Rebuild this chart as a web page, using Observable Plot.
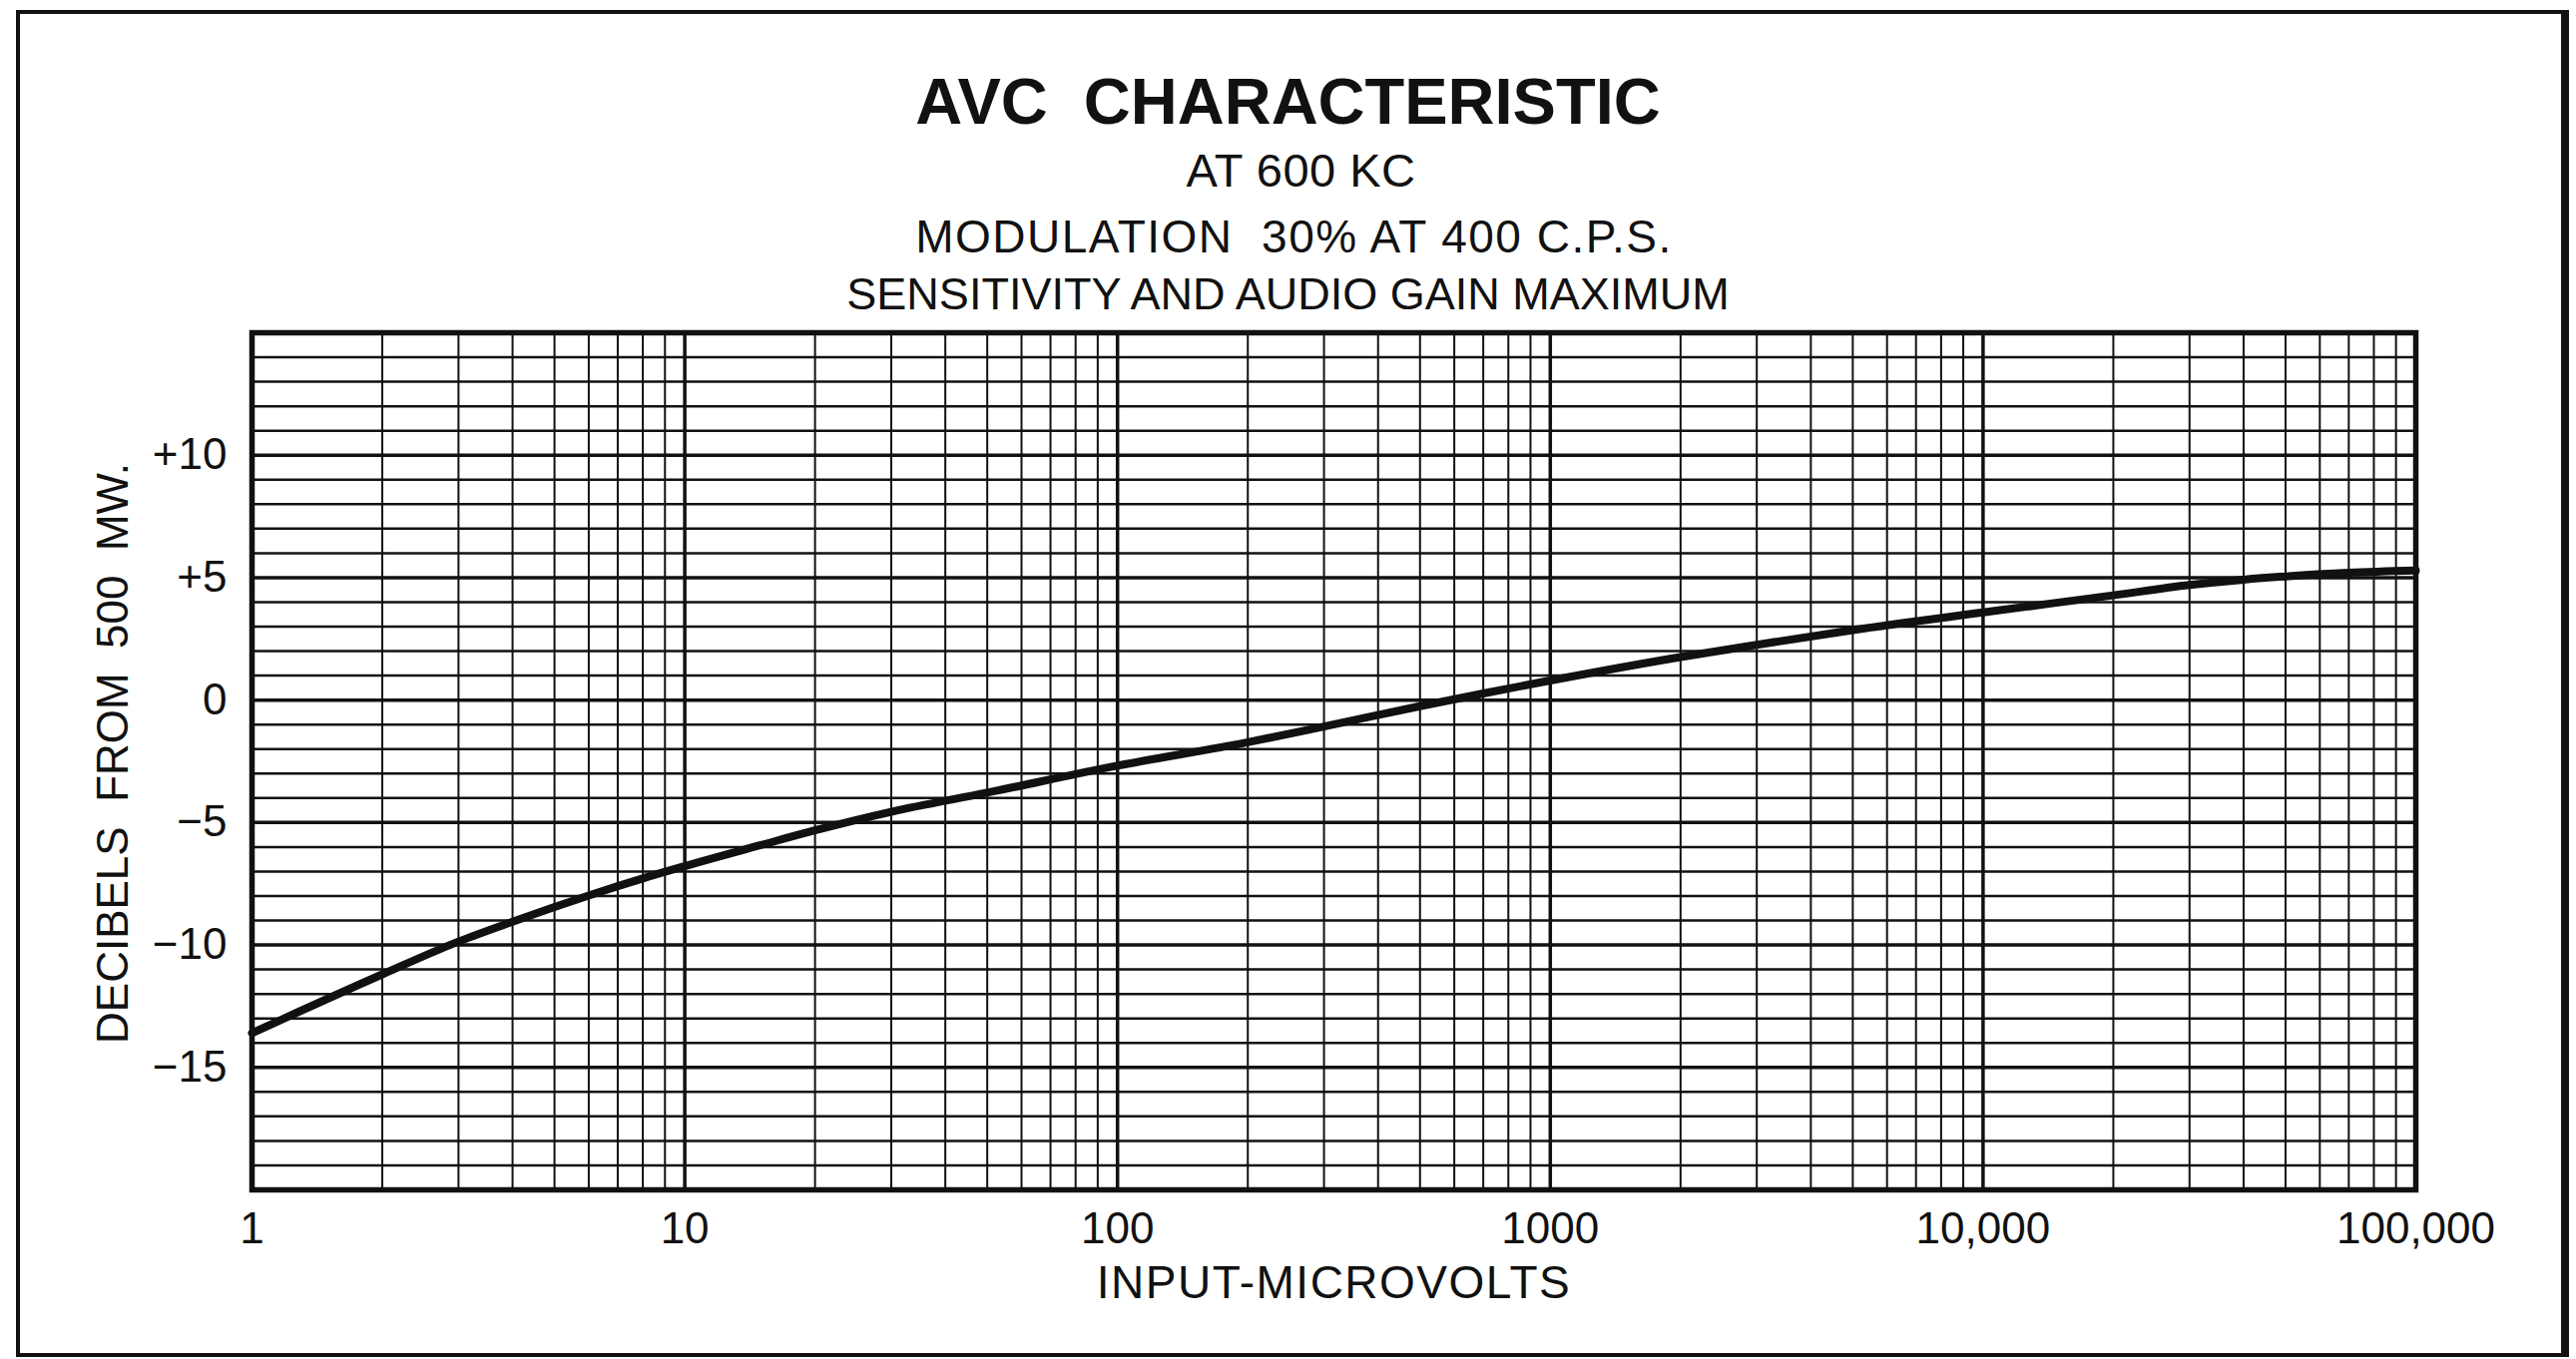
<!DOCTYPE html>
<html>
<head>
<meta charset="utf-8">
<script src="https://cdn.jsdelivr.net/npm/d3@7"></script>
<script src="https://cdn.jsdelivr.net/npm/@observablehq/plot@0.6"></script>
<style>
  html, body { margin: 0; padding: 0; background: #fff; }
  #page { position: relative; width: 2581px; height: 1362px; overflow: hidden; background: #fff;
          font-family: "Liberation Sans", Arial, sans-serif; color: #111; }
  #border { position: absolute; left: 16px; top: 10px; width: 2558px; height: 1350px; box-sizing: border-box;
            border-style: solid; border-color: #111; border-width: 4px 8px 4px 4px; z-index: 2; pointer-events: none; }
  .t { position: absolute; left: 0; width: 100%; text-align: center; white-space: pre; line-height: 1; }
  #title { top: 69px; font-size: 65px; font-weight: bold; }
  #sub1 { top: 147px; left: 13px; font-size: 47px; letter-spacing: 0.5px; }
  #sub2 { top: 214px; left: 6px; font-size: 46px; letter-spacing: 1.5px; }
  #sub3 { top: 272px; font-size: 45px; }
  #chart { position: absolute; left: 0; top: 320px; }
  #chart svg { overflow: visible; }
  #chart svg .xlab { letter-spacing: 1.5px; }
</style>
</head>
<body>
<div id="page">
  <div class="t" id="title"></div>
  <div class="t" id="sub1"></div>
  <div class="t" id="sub2"></div>
  <div class="t" id="sub3"></div>
  <div id="chart"></div>
  <div id="border"></div>
</div>
<script>
// ---- texts ----
const titleText = "AVC  CHARACTERISTIC";
const subtitleLines = ["AT 600 KC", "MODULATION  30% AT 400 C.P.S.", "SENSITIVITY AND AUDIO GAIN MAXIMUM"];
const xAxisLabel = "INPUT-MICROVOLTS";
const yAxisLabel = "DECIBELS  FROM  500  MW.";

// ---- axis ticks ----
const xTickValues = [1, 10, 100, 1000, 10000, 100000];
const xTickLabels = ["1", "10", "100", "1000", "10,000", "100,000"];
const yTickValues = [-15, -10, -5, 0, 5, 10];
const yTickLabels = ["\u221215", "\u221210", "\u22125", "0", "+5", "+10"];

// ---- curve ----
const inputMicrovolts = [1, 2, 3, 4, 5, 6, 7, 8, 10, 15, 20, 30, 50, 100, 200, 300, 500, 700,
  1000, 2000, 3000, 5000, 10000, 20000, 30000, 40000, 50000, 70000, 100000];
const decibels = [-13.6, -11.2, -9.86, -9.05, -8.45, -7.98, -7.6, -7.28, -6.78, -5.92, -5.32, -4.56, -3.78, -2.68, -1.72, -1.08, -0.25, 0.27,
  0.8, 1.76, 2.26, 2.86, 3.58, 4.28, 4.7, 4.92, 5.05, 5.2, 5.29];

// ---- grid (graph paper) ----
const decades = [1, 10, 100, 1000, 10000, 100000];
const multipliers = [2, 3, 4, 5, 6, 7, 8, 9];
const xMinorGrid = decades.slice(0, -1).flatMap(d => multipliers.map(m => d * m));
const yMajorGrid = [-15, -10, -5, 0, 5, 10];
const yMinorGrid = d3.range(-19, 15).filter(v => v % 5 !== 0);

document.getElementById("title").textContent = titleText;
document.getElementById("sub1").textContent = subtitleLines[0];
document.getElementById("sub2").textContent = subtitleLines[1];
document.getElementById("sub3").textContent = subtitleLines[2];

const points = inputMicrovolts.map((x, i) => ({x, y: decibels[i]}));
const ink = "#111";

const chart = Plot.plot({
  width: 2581,
  height: 1042,
  marginLeft: 252,
  marginRight: 161,
  marginTop: 13,
  marginBottom: 170,
  style: {fontFamily: "'Liberation Sans', Arial, sans-serif", fontSize: "44px", color: ink, background: "transparent", overflow: "visible"},
  x: {type: "log", domain: [1, 100000], ticks: xTickValues,
      tickFormat: d => xTickLabels[xTickValues.indexOf(d)], tickSize: 0, tickPadding: 22, label: null},
  y: {domain: [-20, 15], ticks: yTickValues,
      tickFormat: d => yTickLabels[yTickValues.indexOf(d)], tickSize: 0, tickPadding: 25, label: null},
  marks: [
    Plot.ruleY(yMinorGrid, {stroke: ink, strokeWidth: 2.5}),
    Plot.ruleX(xMinorGrid, {stroke: ink, strokeWidth: 2}),
    Plot.ruleY(yMajorGrid, {stroke: ink, strokeWidth: 3.5}),
    Plot.ruleX(decades, {stroke: ink, strokeWidth: 3.5}),
    Plot.frame({stroke: ink, strokeWidth: 5.5}),
    Plot.line(points, {x: "x", y: "y", curve: "monotone-x", stroke: ink, strokeWidth: 8}),
    Plot.text([yAxisLabel], {frameAnchor: "left", textAnchor: "middle", rotate: -90, dx: -139, dy: -8, fontSize: 44, fill: ink}),
    Plot.text([xAxisLabel], {frameAnchor: "bottom", textAnchor: "middle", dy: 108, fontSize: 46, fill: ink, className: "xlab"})
  ]
});
document.getElementById("chart").appendChild(chart);
</script>
</body>
</html>
